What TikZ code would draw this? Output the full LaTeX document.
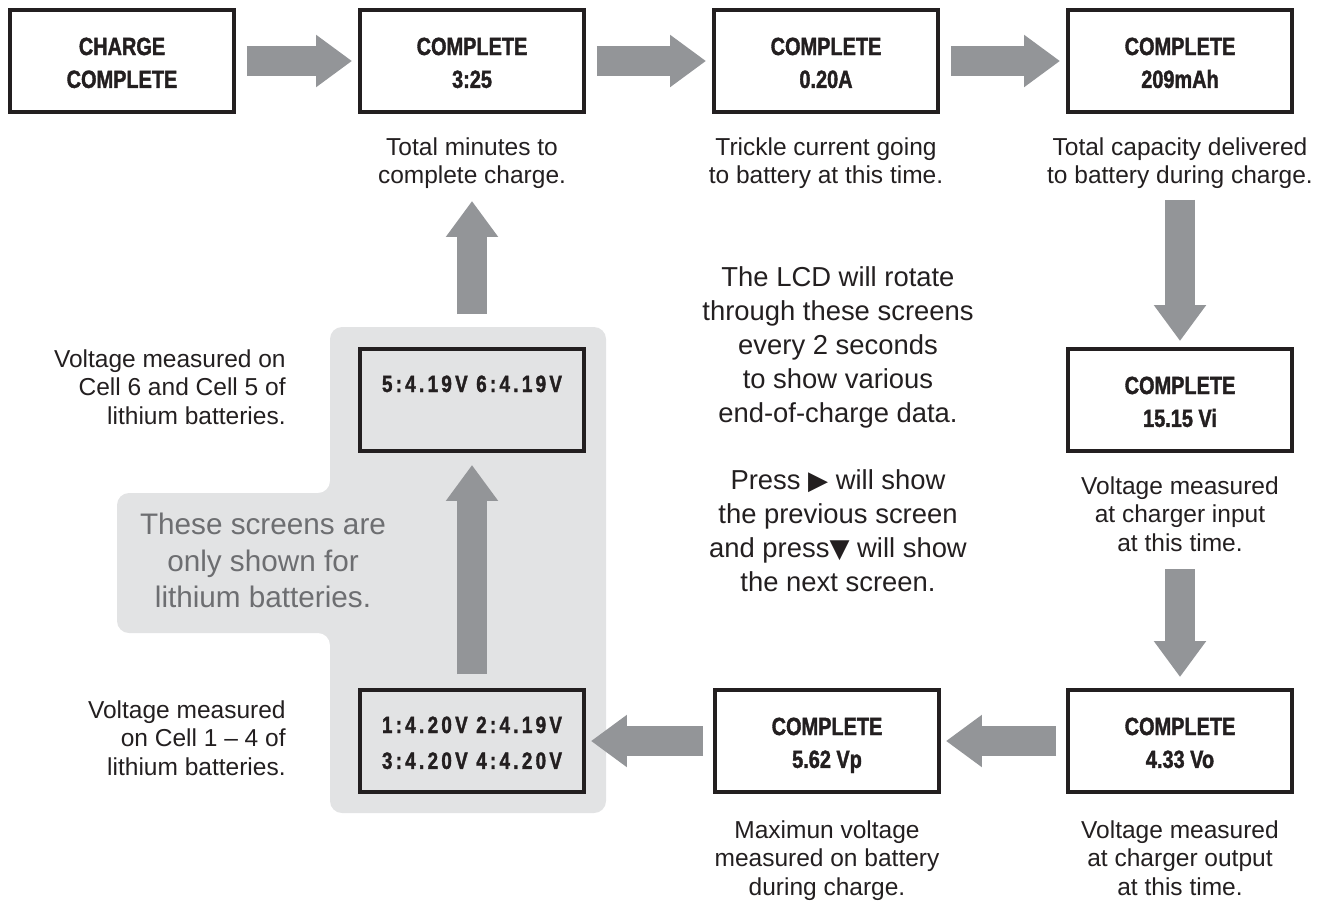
\documentclass[tikz,border=0pt]{standalone}
\usepackage{fontspec}
\setmainfont{Liberation Sans}
\newfontfamily\boxfont{Liberation Sans}[FakeStretch=0.8,BoldFeatures={FakeBold=1.5}]
\newfontfamily\lcdfont{Liberation Sans}[FakeStretch=0.8,LetterSpace=14,BoldFeatures={FakeBold=1.5}]
\newfontfamily\symfont{DejaVu Sans}[Scale=0.95]
\usetikzlibrary{arrows.meta}

\definecolor{arrowgray}{HTML}{939598}
\definecolor{panelgray}{HTML}{E2E3E4}
\definecolor{notegray}{HTML}{6D6E71}
\definecolor{ink}{HTML}{231F20}

% struts that fix the baselines inside the screens
\newcommand{\bxs}{\rule[-3.1pt]{0pt}{18.1pt}}
\newcommand{\lcs}{\rule[-2.7pt]{0pt}{16.7pt}}

\tikzset{
  screen/.style={draw=ink, line width=0.08cm, minimum width=4.48cm, minimum height=2.04cm,
    inner sep=0pt, align=center, text=ink, font=\boxfont\bfseries\fontsize{14.17pt}{18.7pt}\selectfont},
  lcd/.style={screen, font=\lcdfont\bfseries\fontsize{13.4pt}{20.4pt}\selectfont},
  capt/.style={anchor=north, inner sep=0pt, align=center, text=ink, font=\fontsize{13.95pt}{16.16pt}\selectfont},
  lcapt/.style={capt, anchor=north east, align=right},
  lcdnote/.style={anchor=north, inner sep=0pt, align=center, text=ink, font=\fontsize{15.6pt}{19.45pt}\selectfont},
  graynote/.style={anchor=north, inner sep=0pt, align=center, text=notegray, font=\fontsize{16.9pt}{20.7pt}\selectfont},
  flow/.style={draw=arrowgray, line width=0.6cm, -{Triangle[width=1cm,length=0.72cm]},
    shorten <=0.22cm, shorten >=0.12cm},
}

\begin{document}
\begin{tikzpicture}[x=0.02cm, y=-0.02cm]
\useasboundingbox (0,0) rectangle (1332,900);

% lithium panel
\fill[panelgray, rounded corners=0.24cm] (330,327) -- (606,327) -- (606,813) -- (330,813)
  -- (330,633) -- (117,633) -- (117,493) -- (330,493) -- cycle;

% screens
\node[screen] (b1) at (122,61) {\bxs CHARGE\\\bxs COMPLETE};
\node[screen] (b2) at (472,61) {\bxs COMPLETE\\\bxs 3:25};
\node[screen] (b3) at (826,61) {\bxs COMPLETE\\\bxs 0.20A};
\node[screen] (b4) at (1180,61) {\bxs COMPLETE\\\bxs 209mAh};
\node[screen] (b5) at (1180,400) {\bxs COMPLETE\\\bxs 15.15 Vi};
\node[screen] (b6) at (1180,741) {\bxs COMPLETE\\\bxs 4.33 Vo};
\node[screen] (b7) at (827,741) {\bxs COMPLETE\\\bxs 5.62 Vp};
\node[lcd] (b8) at (472,741) {\lcs 1:4.20V 2:4.19V\\\lcs 3:4.20V 4:4.20V};
\node[lcd] (b9) at (472,400) {\lcs 5:4.19V 6:4.19V\\\lcs};

% captions
\node[capt] (cap2) at (472,135) {\strut Total minutes to\\\strut complete charge.};
\node[capt] (cap3) at (826,135) {\strut Trickle current going\\\strut to battery at this time.};
\node[capt] (cap4) at (1180,135) {\strut Total capacity delivered\\\strut to battery during charge.};
\node[capt] (cap5) at (1180,474) {\strut Voltage measured\\\strut at charger input\\\strut at this time.};
\node[capt] (cap6) at (1180,818) {\strut Voltage measured\\\strut at charger output\\\strut at this time.};
\node[capt] (cap7) at (827,818) {\strut Maximun voltage\\\strut measured on battery\\\strut during charge.};
\node[lcapt] (cap9) at (286,347) {\strut Voltage measured on\\\strut Cell 6 and Cell 5 of\\\strut lithium batteries.};
\node[lcapt] (cap8) at (286,698) {\strut Voltage measured\\\strut on Cell 1 -- 4 of\\\strut lithium batteries.};

% notes
\node[lcdnote] (rotate) at (838,262) {\strut The LCD will rotate\\\strut through these screens\\\strut every 2 seconds\\\strut to show various\\\strut end-of-charge data.};
\node[lcdnote] (press) at (838,465) {\strut Press {\symfont ▶} will show\\\strut the previous screen\\\strut and press{\symfont ▼} will show\\\strut the next screen.};
\node[graynote] (lithium) at (263,509) {\strut These screens are\\\strut only shown for\\\strut lithium batteries.};

% arrows
\draw[flow] (b1) -- (b2);
\draw[flow] (b2) -- (b3);
\draw[flow] (b3) -- (b4);
\draw[flow, shorten <=0.15cm] (cap4) -- (b5);
\draw[flow, shorten <=0.19cm, shorten >=0.22cm] (cap5) -- (b6);
\draw[flow, shorten <=0.2cm, shorten >=0.1cm] (b6) -- (b7);
\draw[flow, shorten <=0.2cm, shorten >=0.1cm] (b7) -- (b8);
\draw[flow, shorten <=0.28cm, shorten >=0.24cm] (b8) -- (b9);
\draw[flow, shorten <=0.66cm, shorten >=0.17cm] (b9) -- (cap2);
\end{tikzpicture}
\end{document}
